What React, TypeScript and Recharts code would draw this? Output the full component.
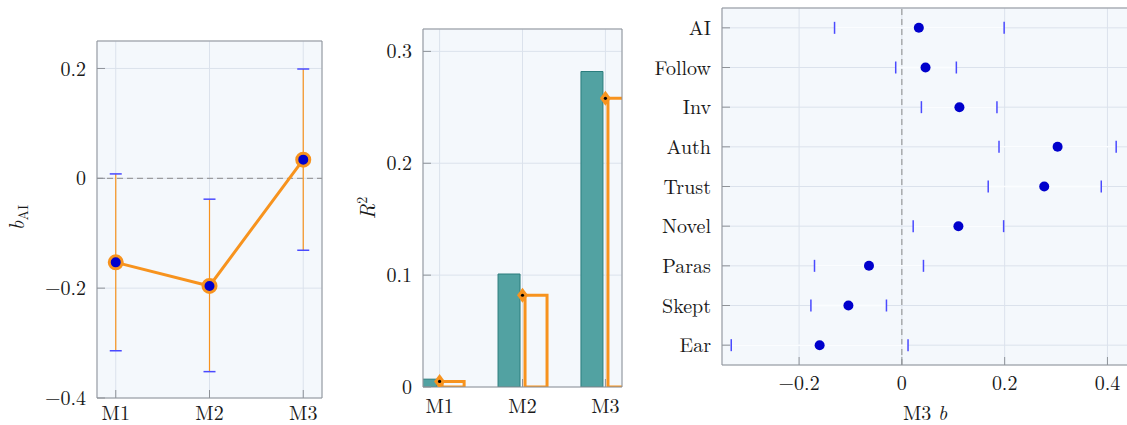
import React from "react";
import {
  ComposedChart,
  ScatterChart,
  Line,
  Bar,
  Scatter,
  XAxis,
  YAxis,
  CartesianGrid,
  ReferenceLine,
  ErrorBar,
} from "recharts";

// panel 1: AI coefficient across models
const MODELS = ["M1", "M2", "M3"];
const B_AI = [-0.153, -0.196, 0.034];
const B_AI_LO = [-0.314, -0.352, -0.131];
const B_AI_HI = [0.008, -0.038, 0.199];
const Y1_TICKS = [-0.4, -0.2, 0, 0.2];

// panel 2: R² and adjusted R²
const R2 = [0.007, 0.101, 0.282];
const ADJ_R2 = [0.005, 0.082, 0.258];
const Y2_TICKS = [0, 0.1, 0.2, 0.3];

// panel 3: M3 coefficients
const PREDICTORS = ["AI", "Follow", "Inv", "Auth", "Trust", "Novel", "Paras", "Skept", "Ear"];
const M3_B = [0.033, 0.046, 0.112, 0.303, 0.277, 0.11, -0.064, -0.104, -0.16];
const M3_LO = [-0.131, -0.012, 0.038, 0.189, 0.168, 0.022, -0.17, -0.177, -0.332];
const M3_HI = [0.199, 0.106, 0.185, 0.417, 0.388, 0.198, 0.042, -0.03, 0.012];
const X3_TICKS = [-0.2, 0, 0.2, 0.4];

const MODEL_TICKS = [1, 2, 3];
const ROW_TICKS = PREDICTORS.map((_, i) => i);

const FONT = '"Latin Modern Roman", "CMU Serif", "Liberation Serif", serif';
const ORANGE = "#f7931e";
const BLUE = "#0000cc";
const CAP = "#4a4aff";
const TEAL = "#52a2a2";
const TEAL_EDGE = "#2b7d7d";
const BG = "#f4f8fc";
const GRID = "#dbe2ec";
const FRAME = "#8f9399";
const TEXT = "#1a1a1a";

const tickStyle = { fill: TEXT, fontSize: 20, fontFamily: FONT };

const fmt = (v: number) => (v === 0 ? "0" : v.toFixed(1).replace("-", "\u2212"));

const HCap = (p: any) => (
  <line x1={p.cx - 6} x2={p.cx + 6} y1={p.cy} y2={p.cy} stroke={CAP} strokeWidth={1.5} />
);
const VCap = (p: any) => (
  <line x1={p.cx} x2={p.cx} y1={p.cy - 6} y2={p.cy + 6} stroke={CAP} strokeWidth={1.5} />
);
const Diamond = (p: any) => (
  <g>
    <path
      d={`M${p.cx},${p.cy - 7.5} L${p.cx + 5.5},${p.cy} L${p.cx},${p.cy + 7.5} L${p.cx - 5.5},${p.cy} Z`}
      fill={ORANGE}
    />
    <circle cx={p.cx} cy={p.cy} r={1.6} fill="#000" />
  </g>
);
const Dot = (p: any) => <circle cx={p.cx} cy={p.cy} r={5} fill={BLUE} />;

function BLabel({ viewBox }: any) {
  const x = viewBox.x + 24;
  const y = viewBox.y + viewBox.height / 2 - 2;
  return (
    <text x={x} y={y} transform={`rotate(-90, ${x}, ${y})`} textAnchor="middle" fontFamily={FONT} fontSize={21} fill={TEXT}>
      <tspan fontStyle="italic">b</tspan>
      <tspan fontSize={14} dy={4}>AI</tspan>
    </text>
  );
}

function RLabel({ viewBox }: any) {
  const x = viewBox.x + 35;
  const y = viewBox.y + viewBox.height / 2;
  return (
    <text x={x} y={y} transform={`rotate(-90, ${x}, ${y})`} textAnchor="middle" fontFamily={FONT} fontSize={21} fill={TEXT}>
      <tspan fontStyle="italic">R</tspan>
      <tspan fontSize={14} dy={-8}>2</tspan>
    </text>
  );
}

function BLabelX({ viewBox }: any) {
  const x = viewBox.x + viewBox.width / 2;
  const y = viewBox.y + 55;
  return (
    <text x={x} y={y} textAnchor="middle" fontFamily={FONT} fontSize={20} fill={TEXT}>
      <tspan>M3 </tspan>
      <tspan fontStyle="italic">b</tspan>
    </text>
  );
}

function CoefPanel() {
  const data = MODELS.map((_, i) => ({
    x: i + 1,
    b: B_AI[i],
    lo: B_AI_LO[i],
    hi: B_AI_HI[i],
    err: [B_AI[i] - B_AI_LO[i], B_AI_HI[i] - B_AI[i]],
  }));
  return (
    <ComposedChart width={330} height={425} data={data} margin={{ top: 41, right: 8, bottom: 0, left: 0 }}>
      <CartesianGrid fill={BG} stroke={GRID} />
      <XAxis dataKey="x" type="number" domain={[0.8, 3.2]} ticks={MODEL_TICKS} interval={0} allowDataOverflow
        height={27} tickSize={-8} tickMargin={16} stroke={FRAME} tick={tickStyle} tickFormatter={(v) => MODELS[v - 1]} />
      <XAxis xAxisId="top" orientation="top" mirror type="number" domain={[0.8, 3.2]} ticks={MODEL_TICKS} interval={0}
        allowDataOverflow height={10} tickSize={8} tick={false} stroke={FRAME} />
      <YAxis type="number" domain={[-0.4, 0.25]} ticks={Y1_TICKS} interval={0} allowDataOverflow width={97}
        tickSize={-8} tickMargin={19} stroke={FRAME} tick={tickStyle} tickFormatter={fmt} label={<BLabel />} />
      <YAxis yAxisId="right" orientation="right" mirror type="number" domain={[-0.4, 0.25]} ticks={Y1_TICKS}
        interval={0} allowDataOverflow width={10} tickSize={8} tick={false} stroke={FRAME} />
      <ReferenceLine y={0} stroke="#8a8a8a" strokeDasharray="6 4" />
      <Line
        dataKey="b"
        stroke={ORANGE}
        strokeWidth={3}
        isAnimationActive={false}
        dot={(p: any) => (
          <circle key={p.index} cx={p.cx} cy={p.cy} r={6.5} fill={BLUE} stroke={ORANGE} strokeWidth={3} />
        )}
      >
        <ErrorBar dataKey="err" direction="y" width={0} stroke={ORANGE} strokeWidth={1.2} />
      </Line>
      <Scatter dataKey="hi" shape={HCap} isAnimationActive={false} />
      <Scatter dataKey="lo" shape={HCap} isAnimationActive={false} />
    </ComposedChart>
  );
}

function R2Panel() {
  const data = MODELS.map((_, i) => ({ x: i + 1, r2: R2[i], adj: ADJ_R2[i] }));
  return (
    <ComposedChart width={290} height={425} data={data} barGap={5} margin={{ top: 29, right: 8, bottom: 0, left: 0 }}>
      <CartesianGrid fill={BG} stroke={GRID} />
      <XAxis dataKey="x" type="number" domain={[0.8, 3.2]} ticks={MODEL_TICKS} interval={0} allowDataOverflow
        height={38} tickSize={-8} tickMargin={20} stroke={FRAME} tick={tickStyle} tickFormatter={(v) => MODELS[v - 1]} />
      <XAxis xAxisId="top" orientation="top" mirror type="number" domain={[0.8, 3.2]} ticks={MODEL_TICKS} interval={0}
        allowDataOverflow height={10} tickSize={8} tick={false} stroke={FRAME} />
      <YAxis type="number" domain={[0, 0.32]} ticks={Y2_TICKS} interval={0} allowDataOverflow width={83}
        tickSize={-8} tickMargin={19} stroke={FRAME} tick={tickStyle} tickFormatter={fmt} label={<RLabel />} />
      <YAxis yAxisId="right" orientation="right" mirror type="number" domain={[0, 0.32]} ticks={Y2_TICKS}
        interval={0} allowDataOverflow width={10} tickSize={8} tick={false} stroke={FRAME} />
      <Bar dataKey="r2" fill={TEAL} stroke={TEAL_EDGE} strokeWidth={1} barSize={22} isAnimationActive={false} />
      <Bar dataKey="adj" fill="none" stroke={ORANGE} strokeWidth={3} barSize={22} isAnimationActive={false} />
      <Scatter dataKey="adj" shape={Diamond} isAnimationActive={false} zIndex={700} />
    </ComposedChart>
  );
}

function ForestPanel() {
  const points = PREDICTORS.map((_, i) => ({ x: M3_B[i], y: i, err: [M3_B[i] - M3_LO[i], M3_HI[i] - M3_B[i]] }));
  const lows = PREDICTORS.map((_, i) => ({ x: M3_LO[i], y: i }));
  const highs = PREDICTORS.map((_, i) => ({ x: M3_HI[i], y: i }));
  return (
    <ScatterChart width={492} height={425} margin={{ top: 8, right: 4, bottom: 0, left: 0 }}>
      <CartesianGrid fill={BG} stroke={GRID} />
      <XAxis dataKey="x" type="number" domain={[-0.35, 0.44]} ticks={X3_TICKS} interval={0} allowDataOverflow
        height={60} tickSize={-8} tickMargin={19} stroke={FRAME} tick={tickStyle} tickFormatter={fmt} label={<BLabelX />} />
      <XAxis xAxisId="top" orientation="top" mirror type="number" domain={[-0.35, 0.44]} ticks={X3_TICKS} interval={0}
        allowDataOverflow height={10} tickSize={8} tick={false} stroke={FRAME} />
      <YAxis dataKey="y" type="number" reversed domain={[-0.5, 8.5]} ticks={ROW_TICKS} interval={0} allowDataOverflow
        width={82} tickSize={-8} tickMargin={19} stroke={FRAME} tick={tickStyle} tickFormatter={(v) => PREDICTORS[v]} />
      <YAxis yAxisId="right" orientation="right" mirror type="number" reversed domain={[-0.5, 8.5]} ticks={ROW_TICKS}
        interval={0} allowDataOverflow width={10} tickSize={8} tick={false} stroke={FRAME} />
      <ReferenceLine x={0} stroke="#8a8a8a" strokeDasharray="6 4" />
      <Scatter data={points} shape={Dot} isAnimationActive={false}>
        <ErrorBar dataKey="err" direction="x" width={0} stroke="#fbfdff" strokeWidth={1.5} />
      </Scatter>
      <Scatter data={lows} shape={VCap} isAnimationActive={false} />
      <Scatter data={highs} shape={VCap} isAnimationActive={false} />
    </ScatterChart>
  );
}

export default function App() {
  return (
    <div style={{ position: "absolute", left: 0, top: 0, width: 1127, height: 425, overflow: "hidden", background: "#fff", fontFamily: FONT }}>
      <div style={{ position: "absolute", left: 0, top: 0 }}>
        <CoefPanel />
      </div>
      <div style={{ position: "absolute", left: 340, top: 0 }}>
        <R2Panel />
      </div>
      <div style={{ position: "absolute", left: 640, top: 0 }}>
        <ForestPanel />
      </div>
    </div>
  );
}
